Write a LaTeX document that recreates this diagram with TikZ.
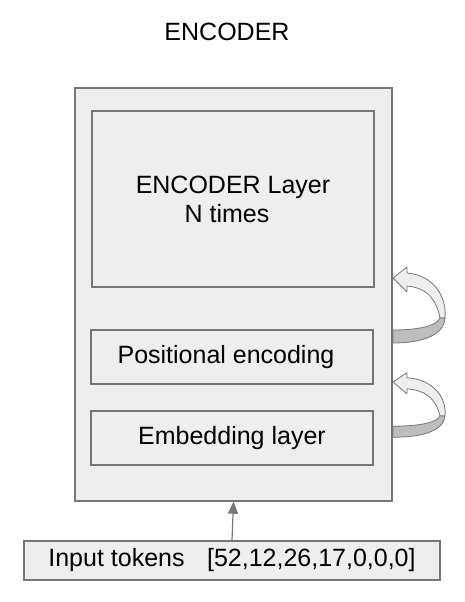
\documentclass[tikz,border=0pt]{standalone}
\usepackage{fontspec}
\setmainfont{Liberation Sans}
\usetikzlibrary{arrows.meta}
\definecolor{boxgray}{HTML}{EEEEEE}
\definecolor{linegray}{HTML}{767676}
\definecolor{backgray}{HTML}{BDBDBD}
\tikzset{
  block/.style={draw=linegray,line width=1.4pt,fill=boxgray,inner sep=0pt,
    font=\fontsize{25}{29}\selectfont},
  looparrow/.pic={
    \filldraw[fill=boxgray,draw=linegray,line width=0.8pt,line join=round]
      (0,0) -- (14,-11) -- (14,-5) .. controls (40,-3) and (54,18) .. (52,40)
      -- (47,40) .. controls (44,24) and (36,10) .. (14,8) -- (14,14) -- cycle;
    \filldraw[fill=backgray,draw=linegray,line width=0.8pt,line join=round]
      (52,40) .. controls (51,57) and (30,65) .. (0,65) -- (0,52)
      .. controls (25,52) and (44,48) .. (47,40) -- cycle;
  }
}
\begin{document}
\begin{tikzpicture}[x=1pt,y=-1pt]
	\useasboundingbox (0,0) rectangle (465,602);
	\node[font=\fontsize{25}{29}\selectfont] (title) at (227,32) {ENCODER};
	\node[block,minimum width=317pt,minimum height=413pt] (enc) at (233.5,294.5) {};
	\node[block,minimum width=282pt,minimum height=176pt,align=center] (layer) at (233,199)
		{ENCODER Layer\\N times\hspace*{12pt}};
	\node[block,minimum width=282pt,minimum height=54pt] (pos) at (232,357)
		{\hspace*{-12pt}Positional encoding};
	\node[block,minimum width=282pt,minimum height=54pt] (emb) at (232,438) {Embedding layer};
	\node[block,minimum width=416pt,minimum height=39pt] (input) at (232,560.5)
		{Input tokens\hspace{0.9em}[52,12,26,17,0,0,0]};
	\draw[draw=linegray,line width=1.2pt,-{Triangle[length=12pt,width=10pt]}]
		(input.north) -- (enc.south);
	\pic at (393,278) {looparrow};
	\pic[yscale=0.85] at (393,382) {looparrow};
\end{tikzpicture}
\end{document}
